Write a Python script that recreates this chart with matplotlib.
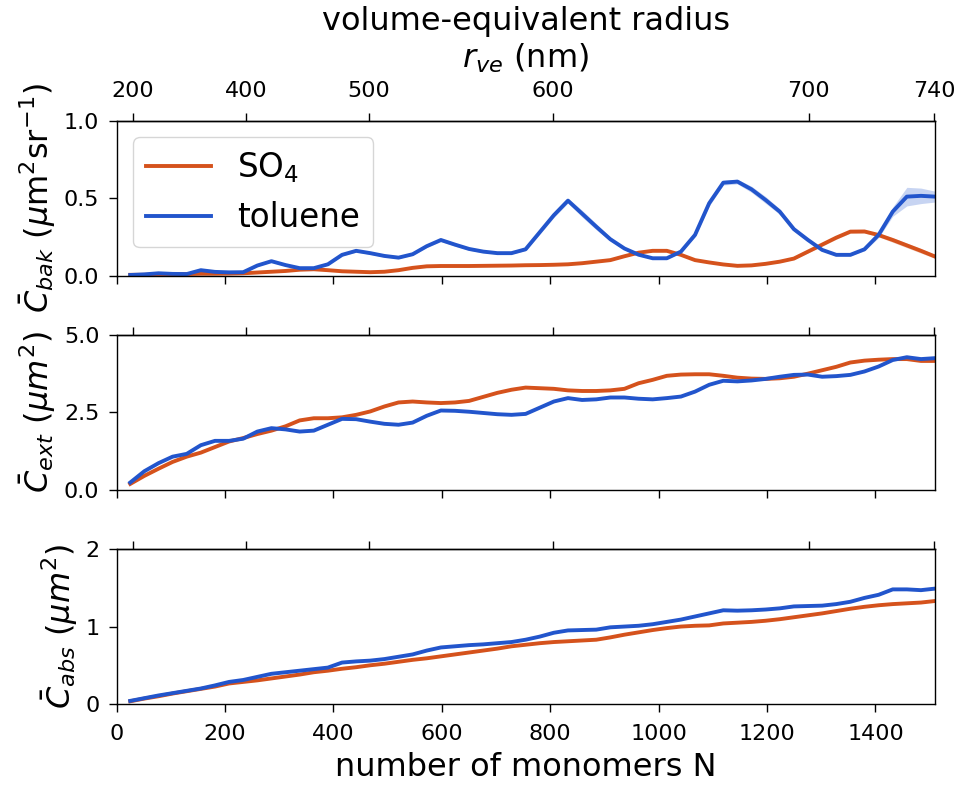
import numpy as np
import matplotlib
matplotlib.use('Agg')
import matplotlib.pyplot as plt

# number of monomers (shared by every series)
N = np.linspace(25, 1510, 58)

# radius per monomer scaling for the top axis: r_ve = A_NM * N^(1/3)
A_NM = 64.52
R_TICKS = [200, 400, 500, 600, 700, 740]

# backscattering cross section (um^2 sr^-1)
bak_so4 = [0.005, 0.005, 0.007, 0.008, 0.010, 0.012, 0.012, 0.013, 0.015, 0.020,
           0.025, 0.030, 0.038, 0.041, 0.035, 0.028, 0.025, 0.022, 0.025, 0.035,
           0.050, 0.060, 0.062, 0.062, 0.062, 0.063, 0.064, 0.065, 0.067, 0.068,
           0.070, 0.073, 0.080, 0.090, 0.100, 0.125, 0.148, 0.160, 0.160, 0.134,
           0.100, 0.085, 0.072, 0.063, 0.066, 0.076, 0.090, 0.110, 0.155, 0.200,
           0.245, 0.284, 0.285, 0.262, 0.230, 0.195, 0.160, 0.123]
bak_tol = [0.004, 0.008, 0.015, 0.011, 0.010, 0.035, 0.024, 0.021, 0.022, 0.065,
           0.093, 0.068, 0.048, 0.048, 0.073, 0.134, 0.160, 0.145, 0.127, 0.116,
           0.138, 0.190, 0.230, 0.200, 0.172, 0.155, 0.145, 0.145, 0.170, 0.280,
           0.390, 0.484, 0.400, 0.316, 0.235, 0.175, 0.135, 0.112, 0.112, 0.155,
           0.263, 0.467, 0.600, 0.607, 0.557, 0.488, 0.413, 0.300, 0.230, 0.166,
           0.134, 0.134, 0.170, 0.263, 0.413, 0.510, 0.515, 0.510]
bak_so4_sd = [0.002, 0.002, 0.002, 0.002, 0.002, 0.002, 0.002, 0.002, 0.002, 0.002,
              0.002, 0.002, 0.003, 0.003, 0.003, 0.003, 0.003, 0.003, 0.003, 0.003,
              0.003, 0.003, 0.003, 0.003, 0.003, 0.003, 0.003, 0.003, 0.003, 0.003,
              0.003, 0.003, 0.003, 0.003, 0.004, 0.004, 0.004, 0.004, 0.004, 0.004,
              0.004, 0.004, 0.004, 0.004, 0.004, 0.004, 0.005, 0.006, 0.008, 0.010,
              0.010, 0.010, 0.010, 0.012, 0.015, 0.015, 0.015, 0.012]
bak_tol_sd = [0.002, 0.002, 0.003, 0.003, 0.003, 0.004, 0.004, 0.004, 0.004, 0.005,
              0.006, 0.006, 0.005, 0.005, 0.006, 0.007, 0.008, 0.008, 0.007, 0.006,
              0.007, 0.008, 0.010, 0.010, 0.008, 0.007, 0.006, 0.006, 0.008, 0.012,
              0.015, 0.015, 0.022, 0.020, 0.012, 0.008, 0.006, 0.005, 0.005, 0.008,
              0.012, 0.018, 0.015, 0.015, 0.020, 0.022, 0.018, 0.012, 0.008, 0.006,
              0.006, 0.006, 0.010, 0.018, 0.030, 0.060, 0.050, 0.035]

# extinction cross section (um^2)
ext_so4 = [0.19, 0.45, 0.68, 0.90, 1.07, 1.20, 1.38, 1.56, 1.67, 1.80,
           1.91, 2.05, 2.24, 2.31, 2.31, 2.34, 2.42, 2.53, 2.69, 2.82,
           2.85, 2.82, 2.80, 2.82, 2.87, 3.00, 3.13, 3.23, 3.30, 3.28,
           3.26, 3.21, 3.19, 3.19, 3.21, 3.26, 3.44, 3.55, 3.68, 3.72,
           3.73, 3.73, 3.68, 3.62, 3.59, 3.58, 3.60, 3.65, 3.75, 3.86,
           3.97, 4.11, 4.17, 4.20, 4.22, 4.22, 4.16, 4.16]
ext_tol = [0.235, 0.60, 0.86, 1.07, 1.16, 1.44, 1.58, 1.58, 1.65, 1.88,
           1.99, 1.95, 1.88, 1.91, 2.10, 2.29, 2.28, 2.20, 2.13, 2.10,
           2.17, 2.39, 2.56, 2.55, 2.52, 2.48, 2.44, 2.42, 2.45, 2.65,
           2.85, 2.96, 2.90, 2.92, 2.98, 2.98, 2.94, 2.92, 2.96, 3.01,
           3.17, 3.39, 3.52, 3.50, 3.53, 3.58, 3.65, 3.71, 3.72, 3.65,
           3.67, 3.71, 3.82, 3.98, 4.19, 4.28, 4.22, 4.25]

# absorption cross section (um^2)
abs_so4 = [0.035, 0.07, 0.10, 0.135, 0.165, 0.195, 0.225, 0.265, 0.285, 0.305,
           0.33, 0.355, 0.38, 0.41, 0.43, 0.455, 0.475, 0.50, 0.52, 0.545,
           0.57, 0.59, 0.615, 0.64, 0.665, 0.69, 0.715, 0.745, 0.765, 0.785,
           0.80, 0.81, 0.82, 0.83, 0.86, 0.895, 0.925, 0.955, 0.98, 1.00,
           1.01, 1.015, 1.04, 1.05, 1.06, 1.075, 1.095, 1.12, 1.145, 1.17,
           1.20, 1.23, 1.255, 1.275, 1.29, 1.30, 1.31, 1.33]
abs_tol = [0.04, 0.075, 0.11, 0.14, 0.17, 0.20, 0.24, 0.285, 0.31, 0.35,
           0.39, 0.41, 0.43, 0.45, 0.47, 0.535, 0.55, 0.56, 0.58, 0.61,
           0.64, 0.69, 0.73, 0.745, 0.76, 0.77, 0.785, 0.80, 0.83, 0.87,
           0.92, 0.95, 0.955, 0.96, 0.99, 1.00, 1.01, 1.03, 1.06, 1.09,
           1.13, 1.17, 1.21, 1.205, 1.21, 1.22, 1.235, 1.26, 1.265, 1.27,
           1.29, 1.32, 1.37, 1.41, 1.48, 1.48, 1.47, 1.49]

c_so4 = '#D5521C'
c_tol = '#2255CC'

plt.rcParams['xtick.major.size'] = 5.5
plt.rcParams['ytick.major.size'] = 5.5
plt.rcParams['xtick.major.width'] = 1.0
plt.rcParams['ytick.major.width'] = 1.0
plt.rcParams['xtick.major.pad'] = 9
plt.rcParams['ytick.major.pad'] = 7
plt.rcParams['xtick.labelsize'] = 16
plt.rcParams['ytick.labelsize'] = 16
plt.rcParams['axes.linewidth'] = 1.0


def n_to_r(n):
    return A_NM * np.cbrt(n)


def r_to_n(r):
    return (np.asarray(r) / A_NM) ** 3


fig = plt.figure(figsize=(9.66, 7.85), dpi=100)
axs = fig.subplots(3, 1, sharex=True)
fig.subplots_adjust(left=0.1208, right=0.968, top=0.8462, bottom=0.1032, hspace=0.383)

panels = [
    (bak_so4, bak_tol, bak_so4_sd, bak_tol_sd, (0, 1), [0, 0.5, 1.0],
     r'$\bar{C}_{bak}$ ($\mu$m$^2$sr$^{-1}$)'),
    (ext_so4, ext_tol, None, None, (0, 5), [0, 2.5, 5.0],
     r'$\bar{C}_{ext}$ ($\mu m^2$)'),
    (abs_so4, abs_tol, None, None, (0, 2), [0, 1, 2],
     r'$\bar{C}_{abs}$ ($\mu m^2$)'),
]

for i, (ax, (so4, tol, so4_sd, tol_sd, ylim, yticks, ylab)) in enumerate(zip(axs, panels)):
    so4 = np.array(so4)
    tol = np.array(tol)
    if so4_sd is not None:
        ax.fill_between(N, so4 - np.array(so4_sd), so4 + np.array(so4_sd),
                        color=c_so4, alpha=0.25, lw=0)
        ax.fill_between(N, tol - np.array(tol_sd), tol + np.array(tol_sd),
                        color=c_tol, alpha=0.25, lw=0)
    ax.plot(N, so4, color=c_so4, lw=2.8, label='SO$_4$')
    ax.plot(N, tol, color=c_tol, lw=2.8, label='toluene')
    ax.set_ylim(*ylim)
    ax.set_yticks(yticks)
    ax.set_xlim(0, 1510)
    ax.set_ylabel(ylab, fontsize=23)

    sec = ax.secondary_xaxis('top', functions=(n_to_r, r_to_n))
    sec.set_xticks(R_TICKS)
    if i == 0:
        sec.set_xticklabels([str(r) for r in R_TICKS])
        sec.set_xlabel('volume-equivalent radius\n$r_{ve}$ (nm)', fontsize=23, labelpad=9)
    else:
        sec.tick_params(labeltop=False)

axs[0].legend(loc='upper left', fontsize=23.5)
axs[2].set_xlabel('number of monomers N', fontsize=23, labelpad=6)

plt.savefig('out.png', dpi=100)
